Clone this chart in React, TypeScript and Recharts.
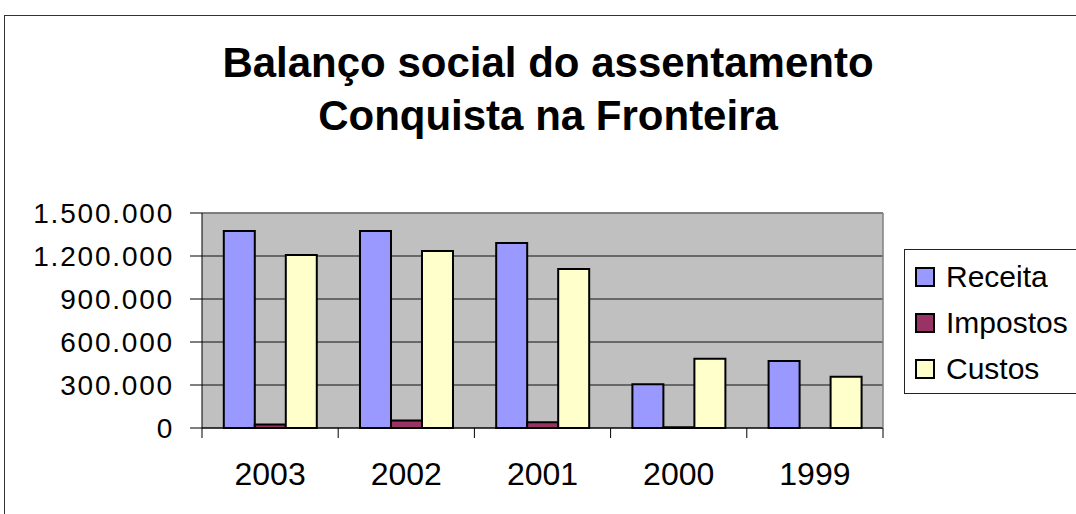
import { Bar, BarChart, CartesianGrid, Legend, XAxis, YAxis } from "recharts";

const years = ["2003", "2002", "2001", "2000", "1999"];
const receita = [1375000, 1375000, 1290000, 305000, 467000];
const impostos = [25000, 53000, 40000, 5000, 0];
const custos = [1207000, 1235000, 1109000, 483000, 358000];
const yTicks = [0, 300000, 600000, 900000, 1200000, 1500000];

const series = [
  { key: "receita", name: "Receita", color: "#9999FF" },
  { key: "impostos", name: "Impostos", color: "#993366" },
  { key: "custos", name: "Custos", color: "#FFFFCC" },
];

const data = years.map((year, i) => ({
  year,
  receita: receita[i],
  impostos: impostos[i],
  custos: custos[i],
}));

const FONT = "'Liberation Sans', Arial, sans-serif";
const X_TICK_MARGIN = 34;

const fmt = (v: number) => String(v).replace(/\B(?=(\d{3})+(?!\d))/g, ".");

// year label + tick marks on the group edges (Excel style)
function YearTick(props: any) {
  const { x, y, payload, width, visibleTicksCount, index } = props;
  const half = width / visibleTicksCount / 2;
  const axisY = y - X_TICK_MARGIN;
  return (
    <g>
      <line x1={x - half} x2={x - half} y1={axisY} y2={axisY + 10} stroke="#000" />
      {index === visibleTicksCount - 1 && (
        <line x1={x + half} x2={x + half} y1={axisY} y2={axisY + 10} stroke="#000" />
      )}
      <text x={x} y={y} dy="0.71em" textAnchor="middle" fill="#000" fontSize={32} fontFamily={FONT}>
        {payload.value}
      </text>
    </g>
  );
}

function LegendBox() {
  return (
    <div
      style={{
        border: "1.5px solid #222",
        background: "#fff",
        paddingTop: 4,
        fontFamily: FONT,
        fontSize: 30,
        color: "#000",
        boxSizing: "border-box",
        height: 145,
      }}
    >
      {series.map((s) => (
        <div key={s.key} style={{ display: "flex", alignItems: "center", height: 46 }}>
          <span
            style={{
              display: "inline-block",
              width: 16,
              height: 16,
              marginLeft: 10,
              marginRight: 11,
              background: s.color,
              border: "2px solid #000",
            }}
          />
          <span>{s.name}</span>
        </div>
      ))}
    </div>
  );
}

export default function App() {
  return (
    <div
      style={{
        position: "fixed",
        left: 0,
        top: 0,
        width: 1076,
        height: 514,
        overflow: "hidden",
        background: "#fff",
      }}
    >
      <div
        style={{
          position: "absolute",
          left: 4,
          top: 15,
          width: 1100,
          height: 520,
          borderLeft: "1.5px solid #333",
          borderTop: "1.5px solid #333",
        }}
      />
      <div
        style={{
          position: "absolute",
          left: 0,
          width: 1096,
          top: 36,
          textAlign: "center",
          fontFamily: FONT,
          fontWeight: "bold",
          fontSize: 42,
          lineHeight: "53px",
          color: "#000",
        }}
      >
        Balanço social do assentamento
        <br />
        Conquista na Fronteira
      </div>
      <BarChart
        width={1076}
        height={514}
        data={data}
        margin={{ top: 212, right: 192, bottom: 85, left: 0 }}
        barCategoryGap="16%"
        barGap={0}
        style={{ position: "absolute", left: 0, top: 0 }}
      >
        <CartesianGrid vertical={false} stroke="#111" fill="#C0C0C0" fillOpacity={1} />
        <XAxis
          dataKey="year"
          height={1}
          interval={0}
          axisLine={{ stroke: "#000" }}
          tickLine={false}
          tickSize={0}
          tickMargin={X_TICK_MARGIN}
          tick={YearTick}
        />
        <XAxis xAxisId="top" orientation="top" height={1} axisLine={{ stroke: "#808080", strokeWidth: 1.5 }} tick={false} tickLine={false} />
        <YAxis
          width={202}
          domain={[0, 1500000]}
          ticks={yTicks}
          interval={0}
          tickFormatter={fmt}
          axisLine={{ stroke: "#000" }}
          tickLine={{ stroke: "#000" }}
          tickSize={12}
          tickMargin={16}
          tick={{ fill: "#000", fontSize: 28, fontFamily: FONT, letterSpacing: 1.8 }}
        />
        <YAxis
          yAxisId="right"
          orientation="right"
          width={1}
          domain={[0, 1]}
          axisLine={{ stroke: "#808080", strokeWidth: 1.5 }}
          tick={false}
          tickLine={false}
        />
        {series.map((s) => (
          <Bar
            key={s.key}
            dataKey={s.key}
            name={s.name}
            fill={s.color}
            stroke="#000"
            strokeWidth={2}
            isAnimationActive={false}
          />
        ))}
        <Legend
          layout="horizontal"
          align="center"
          verticalAlign="middle"
          content={<LegendBox />}
          wrapperStyle={{ left: 904, top: 249, width: 200, height: 145 }}
        />
      </BarChart>
    </div>
  );
}
